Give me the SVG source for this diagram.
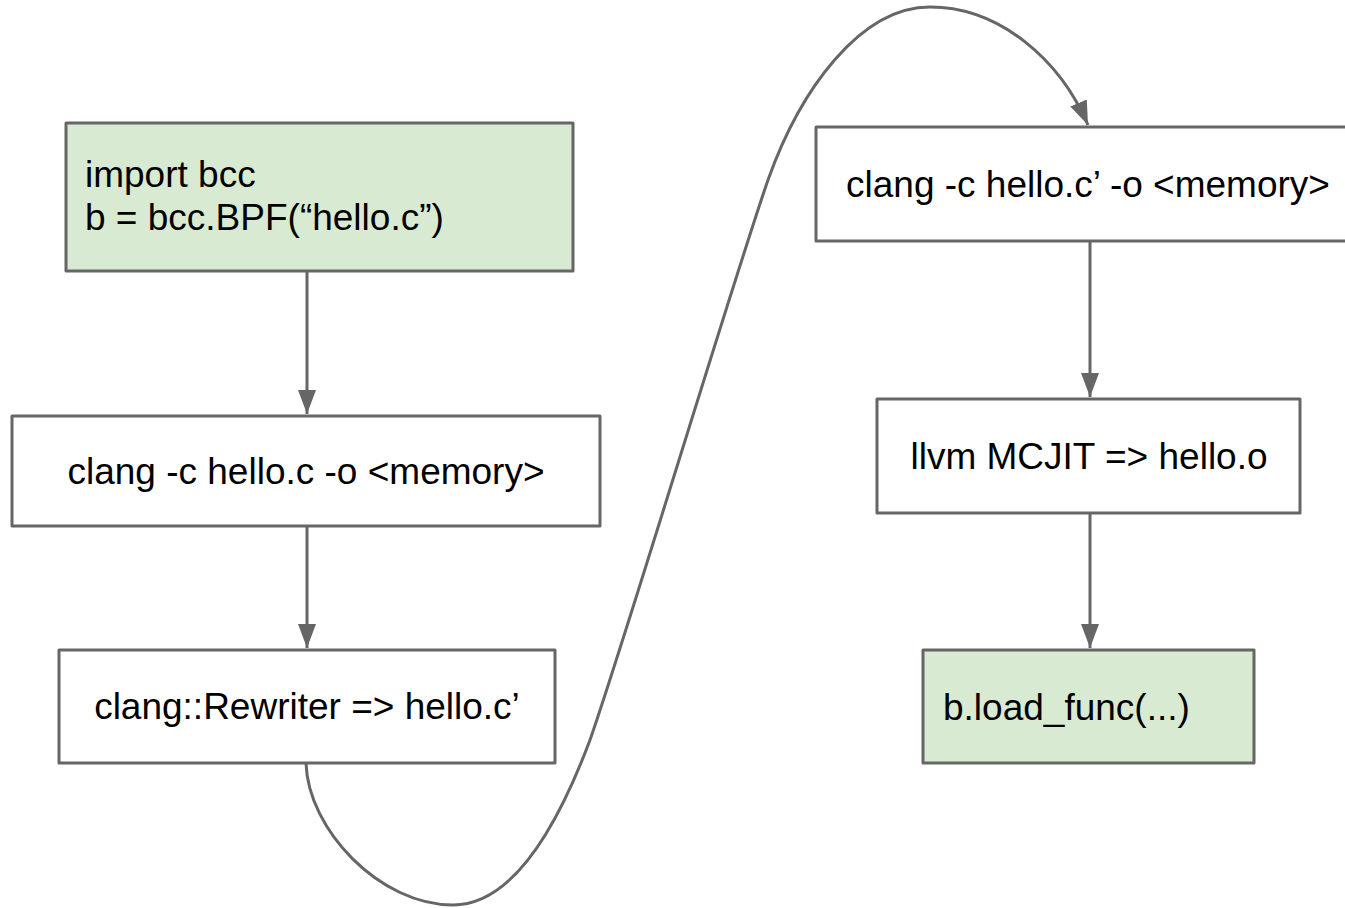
<svg xmlns="http://www.w3.org/2000/svg" width="1345" height="908" viewBox="0 0 1345 908">
  <style>
    .box { stroke: #666666; stroke-width: 3; stroke-linejoin: round; }
    .plain { fill: #ffffff; }
    .green { fill: #d9ead3; }
    .label { font-family: "Liberation Sans", Arial, sans-serif; font-size: 37px; fill: #000000; }
    .mid { text-anchor: middle; }
    .edge { fill: none; stroke: #666666; stroke-width: 3; }
  </style>
  <defs>
    <marker id="arrow" markerUnits="userSpaceOnUse" markerWidth="26" markerHeight="20" refX="24" refY="9" orient="auto">
      <path d="M0,0 L24,9 L0,18 Z" fill="#666666"/>
    </marker>
  </defs>

  <rect width="1345" height="908" fill="#ffffff"/>

  <!-- connectors -->
  <g id="connectors">
    <line class="edge" x1="307" y1="271" x2="307" y2="414" marker-end="url(#arrow)"/>
    <line class="edge" x1="307" y1="526" x2="307" y2="648" marker-end="url(#arrow)"/>
    <path class="edge" d="M306,763 C308,830 380,905 453,905 C515,905 560,820 590,740 C625,640 730,290 768,180 C800,90 860,7 930,7 C1000,7 1060,60 1088,125" marker-end="url(#arrow)"/>
    <line class="edge" x1="1090" y1="241" x2="1090" y2="397" marker-end="url(#arrow)"/>
    <line class="edge" x1="1090" y1="513" x2="1090" y2="648" marker-end="url(#arrow)"/>
  </g>

  <!-- left column -->
  <g id="node-import">
    <rect class="box green" x="66" y="123" width="507" height="148"/>
    <text class="label" x="85" y="187">import bcc</text>
    <text class="label" x="85" y="230">b = bcc.BPF(“hello.c”)</text>
  </g>
  <g id="node-clang">
    <rect class="box plain" x="12" y="416" width="588" height="110"/>
    <text class="label mid" x="306" y="484">clang -c hello.c -o &lt;memory&gt;</text>
  </g>
  <g id="node-rewriter">
    <rect class="box plain" x="59" y="650" width="496" height="113"/>
    <text class="label mid" x="307" y="719">clang::Rewriter =&gt; hello.c’</text>
  </g>

  <!-- right column -->
  <g id="node-clang2">
    <rect class="box plain" x="816" y="127" width="560" height="114"/>
    <text class="label" x="846" y="197">clang -c hello.c’ -o &lt;memory&gt;</text>
  </g>
  <g id="node-mcjit">
    <rect class="box plain" x="877" y="399" width="423" height="114"/>
    <text class="label mid" x="1089" y="469">llvm MCJIT =&gt; hello.o</text>
  </g>
  <g id="node-load">
    <rect class="box green" x="923" y="650" width="331" height="113"/>
    <text class="label" x="943" y="720">b.load_func(...)</text>
  </g>
</svg>
